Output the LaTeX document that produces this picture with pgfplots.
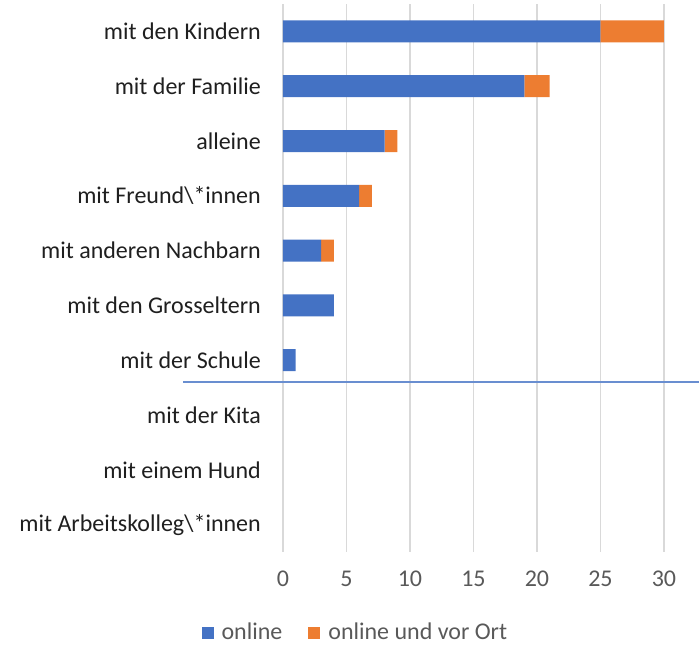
\documentclass[border=0pt]{standalone}
\usepackage{fontspec}
\setmainfont{Carlito}
\usepackage{pgfplots}
\pgfplotsset{compat=1.18}
\definecolor{cblue}{HTML}{4472C4}
\definecolor{corange}{HTML}{ED7D31}
\definecolor{cgrid}{HTML}{D9D9D9}
\definecolor{ctick}{HTML}{595959}
\definecolor{ccat}{HTML}{1F1F1F}
\begin{document}
\fontsize{24}{28}\selectfont
\begin{tikzpicture}
\begin{axis}[
  at={(0,0)}, anchor=south west,
  scale only axis, width=381pt, height=548pt,
  xbar stacked, bar width=22pt,
  xmin=0, xmax=30, ymin=-0.5, ymax=9.5,
  y dir=reverse,
  ytick={0,...,9},
  yticklabels={mit den Kindern, mit der Familie, alleine, mit Freund\textbackslash*innen, mit anderen Nachbarn, mit den Grosseltern, mit der Schule, mit der Kita, mit einem Hund, mit Arbeitskolleg\textbackslash*innen},
  xtick={0,5,...,30},
  major tick length=0pt,
  axis line style={draw=none},
  xmajorgrids, grid style={cgrid, line width=1.5pt},
  yticklabel style={anchor=east, inner sep=0pt, xshift=-22pt, text=ccat, font=\fontsize{24}{28}\selectfont},
  xticklabel style={anchor=north, inner sep=0pt, yshift=-19pt, text=ctick, font=\fontsize{24}{28}\selectfont},
  /pgf/number format/assume math mode=true,
  clip=false,
  legend columns=2,
  legend style={at={(0.19,-0.148)}, anchor=center, draw=none, fill=none,
    font=\fontsize{24}{28}\selectfont, text=ctick,
    /tikz/every odd column/.append style={column sep=6pt},
    /tikz/every even column/.append style={column sep=24pt}},
  legend image code/.code={\fill[#1] (0pt,-6pt) rectangle (12pt,6pt);},
]
\addplot[fill=cblue, draw=none] coordinates {(25,0) (19,1) (8,2) (6,3) (3,4) (4,5) (1,6) (0,7) (0,8) (0,9)};
\addplot[fill=corange, draw=none] coordinates {(5,0) (2,1) (1,2) (1,3) (1,4) (0,5) (0,6) (0,7) (0,8) (0,9)};
\legend{online, online und vor Ort}
\coordinate (LA) at (axis cs:-7.9,6.39);
\coordinate (LB) at (axis cs:32.8,6.39);
\end{axis}
\fill[cblue!80!white] ([yshift=-1pt]LA) rectangle ([yshift=1pt]LB);
\pgfresetboundingbox
\path[use as bounding box] (-283pt,-97pt) rectangle (416pt,552pt);
\end{tikzpicture}
\end{document}
